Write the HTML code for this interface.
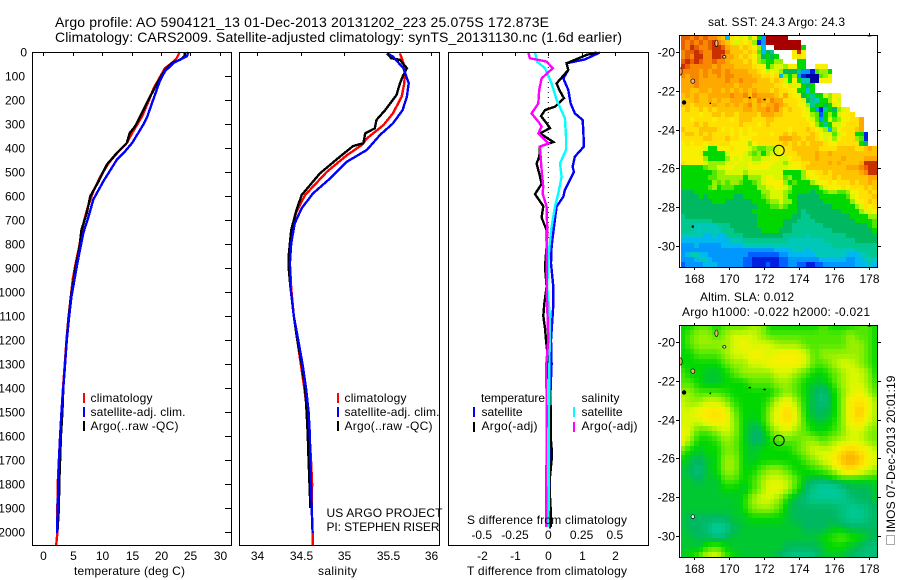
<!DOCTYPE html>
<html>
<head>
<meta charset="utf-8">
<title>Argo profile</title>
<style>
html,body{margin:0;padding:0;background:#fff;}
svg{display:block;}
text{font-family:"Liberation Sans",sans-serif;font-size:12px;fill:#000;}
</style>
</head>
<body>
<svg id="fig" xmlns="http://www.w3.org/2000/svg" width="900" height="580" viewBox="0 0 900 580">
<defs>
<clipPath id="clip-map1"><rect x="680" y="35" width="197" height="232"/></clipPath>
<clipPath id="clip-map2"><rect x="680" y="325" width="197" height="232"/></clipPath>
</defs>
<text x="55" y="27" style="font-size:14px" textLength="494" lengthAdjust="spacing">Argo profile: AO 5904121_13 01-Dec-2013 20131202_223 25.075S 172.873E</text>
<text x="55" y="42" style="font-size:14px" textLength="567" lengthAdjust="spacing">Climatology: CARS2009. Satellite-adjusted climatology: synTS_20131130.nc (1.6d earlier)</text>

<g id="g-map1" clip-path="url(#clip-map1)"></g>
<g id="g-map2" clip-path="url(#clip-map2)"></g>

<g id="g-p1"></g>
<g id="g-p2"></g>
<g id="g-p3"></g>
<g id="g-axes"></g>

<rect x="32.5" y="52.5" width="199" height="493" fill="none" stroke="#000"/>
<rect x="239.5" y="52.5" width="200" height="493" fill="none" stroke="#000"/>
<rect x="448.5" y="52.5" width="200" height="493" fill="none" stroke="#000"/>
<rect x="679.5" y="35.5" width="198" height="232" fill="none" stroke="#000"/>
<rect x="679.5" y="325.5" width="198" height="232" fill="none" stroke="#000"/>

<text x="74" y="575" textLength="111" lengthAdjust="spacing">temperature (deg C)</text>
<text x="318" y="575" textLength="39" lengthAdjust="spacing">salinity</text>
<text x="467" y="575" textLength="160" lengthAdjust="spacing">T difference from climatology</text>
<text x="467" y="524" textLength="160" lengthAdjust="spacing">S difference from climatology</text>

<g>
<rect x="83" y="393" width="2" height="10" fill="#f00"/>
<rect x="83" y="407" width="2" height="10" fill="#00f"/>
<rect x="83" y="421" width="2" height="10" fill="#000"/>
<text x="90.5" y="402" textLength="62" lengthAdjust="spacing">climatology</text>
<text x="90.5" y="416" textLength="95" lengthAdjust="spacing">satellite-adj. clim.</text>
<text x="90.5" y="430" textLength="88" lengthAdjust="spacing">Argo(..raw -QC)</text>
</g>
<g>
<rect x="337" y="393" width="2" height="10" fill="#f00"/>
<rect x="337" y="407" width="2" height="10" fill="#00f"/>
<rect x="337" y="421" width="2" height="10" fill="#000"/>
<text x="344.5" y="402" textLength="62" lengthAdjust="spacing">climatology</text>
<text x="344.5" y="416" textLength="95" lengthAdjust="spacing">satellite-adj. clim.</text>
<text x="344.5" y="430" textLength="88" lengthAdjust="spacing">Argo(..raw -QC)</text>
<text x="326.5" y="517" textLength="116" lengthAdjust="spacing">US ARGO PROJECT</text>
<text x="326.5" y="531" textLength="113" lengthAdjust="spacing">PI: STEPHEN RISER</text>
</g>
<g>
<text x="481" y="402" textLength="64" lengthAdjust="spacing">temperature</text>
<rect x="473" y="407" width="2" height="10" fill="#00f"/>
<rect x="473" y="422" width="2" height="10" fill="#000"/>
<text x="481.5" y="416" textLength="41" lengthAdjust="spacing">satellite</text>
<text x="481.5" y="430" textLength="56" lengthAdjust="spacing">Argo(-adj)</text>
<text x="581.5" y="402" textLength="38" lengthAdjust="spacing">salinity</text>
<rect x="573" y="407" width="2" height="10" fill="#0ff"/>
<rect x="573" y="422" width="2" height="10" fill="#f0f"/>
<text x="581.5" y="416" textLength="41" lengthAdjust="spacing">satellite</text>
<text x="581.5" y="430" textLength="56" lengthAdjust="spacing">Argo(-adj)</text>
</g>

<text x="708" y="26" textLength="137" lengthAdjust="spacing">sat. SST: 24.3 Argo: 24.3</text>
<text x="700" y="301" textLength="94" lengthAdjust="spacing">Altim. SLA: 0.012</text>
<text x="682" y="316" textLength="188" lengthAdjust="spacing">Argo h1000: -0.022 h2000: -0.021</text>
<text transform="translate(895,532.5) rotate(-90)" x="0" y="0" textLength="157" lengthAdjust="spacing">IMOS 07-Dec-2013 20:01:19</text>
<rect x="886.5" y="535.5" width="8" height="9" fill="none" stroke="#555" stroke-dasharray="1 1"/>
</svg>
<script>
// ---------- profile data (depth in dbar) ----------
const depthTicks = [0,100,200,300,400,500,600,700,800,900,1000,1100,1200,1300,1400,1500,1600,1700,1800,1900,2000];
const tempTicks = [0,5,10,15,20,25,30];
const salTicks = [34,34.5,35,35.5,36];
const salTickLabels = ["34","34.5","35","35.5","36"];
const tDiffTicks = [-2,-1,0,1,2];
const sDiffTicks = [-0.5,-0.25,0,0.25,0.5];
const sDiffTickLabels = ["-0.5","-0.25","0","0.25","0.5"];
const lonTicks = [168,170,172,174,176,178];
const latTicks = [-20,-22,-24,-26,-28,-30];

const tempClimDepth = [0,25,45,67,115,150,205,268,338,379,414,463,519,581,651,727,810,893,949,1018,1100,1200,1300,1400,1500,1600,1700,1800,1900,2000,2055];
const tempClimValue = [23.2,22.7,21.9,20.7,19.6,18.8,17.9,16.8,15.1,14.2,12.8,11.1,9.7,8.5,7.5,6.7,6.1,5.4,5.0,4.7,4.3,3.95,3.65,3.35,3.1,2.85,2.65,2.45,2.4,2.4,2.2];
const tempArgoDepth = [0,18,32,45,74,108,157,212,268,310,338,379,421,469,539,601,671,740,823,893,976,1018,1100,1200,1300,1400,1500,1600,1700,1800,1900,2000];
const tempArgoValue = [24.1,24.0,23.3,21.9,20.7,19.9,18.8,17.6,16.5,15.6,14.7,14.2,12.5,10.8,9.4,8.0,7.4,6.5,6.1,5.5,5.0,4.7,4.35,3.98,3.7,3.4,3.25,3.0,2.85,2.7,2.65,2.4];
const tempSatDepth = [0,18,45,80,122,178,226,268,303,379,414,449,539,615,685,754,823,893,962,1018,1100,1200,1300,1400,1500,1600,1700,1800,1900,2005];
const tempSatValue = [24.7,24.4,22.2,20.7,19.8,19.0,18.3,17.7,17.0,15.1,13.9,12.5,10.2,8.5,7.7,6.8,6.25,5.7,5.2,4.8,4.4,4.0,3.7,3.4,3.1,2.85,2.67,2.55,2.45,2.33];

const salClimDepth = [6,26,68,130,186,255,304,360,388,430,499,596,665,714,797,881,985,1100,1200,1300,1400,1500,1600,1700,1800,1900,2000,2055];
const salClimValue = [35.64,35.66,35.7,35.69,35.66,35.56,35.45,35.26,35.2,35.03,34.8,34.55,34.45,34.41,34.38,34.375,34.39,34.42,34.46,34.5,34.54,34.575,34.6,34.617,34.63,34.625,34.636,34.636];
const salArgoDepth = [6,26,33,68,103,130,179,242,283,318,339,380,392,436,506,596,658,742,853,895,978,1100,1200,1300,1400,1500,1600,1700,1800,1900];
const salArgoValue = [35.49,35.54,35.64,35.72,35.67,35.64,35.6,35.47,35.37,35.35,35.24,35.22,35.1,34.95,34.72,34.51,34.45,34.39,34.36,34.36,34.38,34.42,34.46,34.51,34.55,34.567,34.58,34.59,34.6,34.61];
const salSatDepth = [5,19,68,130,186,242,297,346,408,457,526,589,651,714,797,881,978,1100,1200,1300,1400,1500,1600,1700,1800,1900,2005];
const salSatValue = [35.49,35.56,35.68,35.74,35.72,35.67,35.56,35.41,35.26,35.03,34.84,34.64,34.51,34.43,34.39,34.375,34.38,34.42,34.47,34.52,34.56,34.59,34.605,34.61,34.617,34.625,34.636];

const tDiffSatDepth = [2,31,47,75,110,158,214,256,283,325,394,436,478,499,575,603,644,728,811,881,978,1050,1100,1200,1300,1400,1500,1900,1985];
const tDiffSatValue = [1.55,1.1,0.55,0.6,0.45,0.6,0.67,0.8,1.03,1.05,1.07,0.8,0.73,0.77,0.5,0.45,0.25,0.17,0.1,0.08,0.15,0.15,0.13,0.08,0.1,0.07,0.05,0.05,0.05];
const tDiffArgoDepth = [2,12,47,75,131,158,193,228,242,267,297,317,339,375,394,436,464,519,550,592,642,690,742,811,894,978,1050,1100,1150,1200,1250,1500,1600,1650,1700,1800,1900,1980];
const tDiffArgoValue = [1.45,1.15,0.55,0.6,0.25,0.33,0.47,0.2,-0.1,-0.22,-0.05,0.05,-0.25,0.15,-0.25,-0.27,-0.35,-0.25,-0.2,-0.4,-0.15,-0.2,-0.05,-0.05,-0.1,-0.05,-0.12,-0.15,-0.1,-0.07,-0.03,0.08,0.07,0.1,0.1,0.03,0.07,0.07];
const sDiffSatDepth = [2,40,68,131,200,276,353,408,464,519,589,644,728,811,881,978,1100,1500,1800,1980];
const sDiffSatValue = [-0.1,-0.083,-0.025,0.025,0.063,0.125,0.133,0.133,0.088,0.1,0.075,0.05,0.025,0.008,0,-0.008,0.012,0.005,0.005,0];
const sDiffArgoDepth = [2,26,40,68,110,158,214,256,290,311,339,381,394,492,561,589,644,742,853,978,1200,1300,1500,1980];
const sDiffArgoValue = [-0.15,-0.138,-0.013,0.033,-0.05,-0.068,-0.075,-0.125,-0.075,-0.05,-0.075,0,-0.063,-0.05,-0.038,-0.043,-0.013,-0.008,-0.013,-0.013,0,-0.015,-0.013,-0.015];

// ---------- map data: colour-scale levels per cell, _ = no data ----------
const _ = null;
const sstLevels = [
[17,17,16,17,16,17,16,16,15,14,4,13,12,11,12,10,12,8,3,19,19,19,19,19],
[17,16,17,16,17,16,17,18,16,15,14,13,11,13,12,13,10,1,3,19,19,19,19,19,19,19,19],
[17,16,18,17,16,16,17,18,18,17,15,14,14,13,14,13,12,10,4,_,_,19,19,19,19,19,19,8],
[16,17,17,18,17,16,16,18,18,18,16,14,14,14,13,14,13,9,4,7,6,_,_,_,_,12,18,12],
[16,17,16,18,18,16,16,18,18,17,15,15,14,13,14,13,12,10,7,8,7,8,_,_,_,12,13,12],
[17,18,17,18,17,16,16,17,16,16,15,14,14,14,13,14,12,10,9,8,8,10,10,_,_,_,8,8],
[18,17,16,16,16,16,16,15,16,15,15,15,14,14,14,14,13,12,12,8,10,11,11,10,12,12,8,8,_,_,12,12,12],
[16,16,16,16,15,16,15,16,16,15,16,15,15,15,15,14,14,13,12,11,12,11,10,7,7,7,6,3,3,1,9,10,10,8],
[16,15,16,16,15,16,15,15,16,15,16,16,15,15,15,15,14,14,13,13,12,13,4,10,8,10,3,1,0,0,0,9,10,11],
[15,15,15,16,15,15,15,15,15,15,16,15,15,16,15,15,15,14,14,14,13,14,13,11,8,12,8,5,5,0,0,12,12,12],
[15,15,15,16,15,15,15,15,15,15,15,15,14,15,15,15,14,14,14,14,14,13,13,12,13,11,12,8,7,8],
[15,15,14,14,15,15,14,15,15,14,15,14,15,14,15,14,15,14,14,14,13,14,13,13,12,12,8,8,4,8],
[14,15,14,15,14,14,15,15,15,15,15,16,15,15,16,14,16,15,15,15,15,14,13,15,13,12,12,7,8,6,8,8,11,10,12,12],
[14,14,14,15,14,14,15,14,15,14,14,15,15,15,14,15,14,16,15,14,16,15,15,13,13,13,12,11,7,6,5,8,8,10,12,11],
[14,14,13,14,14,14,14,15,14,14,15,14,15,14,15,16,14,15,14,15,15,16,15,14,13,13,12,12,10,6,8,8,7,8,11,12],
[13,14,13,13,14,13,14,13,14,14,14,14,14,14,15,15,14,15,15,16,15,16,14,13,14,13,13,12,11,8,3,1,6,8,7,10,11,12],
[13,13,13,13,12,13,13,14,14,13,14,14,13,14,14,14,14,13,15,15,15,14,14,13,13,13,13,12,12,10,9,2,8,10,8,11,12,12,13],
[13,13,12,13,13,13,13,12,13,13,13,12,13,14,14,14,13,13,13,14,14,13,13,13,13,13,13,13,12,11,9,3,8,11,9,10,12,12,13,13,15],
[13,13,13,14,13,14,13,13,13,13,13,13,13,14,13,13,13,12,13,14,13,13,13,13,13,13,13,13,13,12,10,8,6,8,11,11,12,13,13,13,15],
[14,13,13,13,14,14,14,14,13,12,13,12,13,12,13,12,13,13,13,13,13,13,13,13,12,13,13,13,14,13,12,11,10,4,10,12,13,13,13,14,15],
[13,14,14,13,14,13,14,13,13,13,13,12,13,12,13,12,12,13,13,13,12,13,13,14,13,14,13,13,13,14,13,12,11,11,9,11,12,13,13,8,8,1],
[13,13,13,13,13,14,14,13,13,13,14,13,13,12,12,12,13,13,13,13,13,13,15,15,15,14,14,13,14,14,13,12,11,12,10,12,13,13,13,10,9,1],
[12,13,12,13,13,12,13,13,13,13,13,12,12,12,12,10,12,13,13,13,13,13,13,14,13,14,13,14,13,14,14,14,13,12,12,13,13,13,13,13,8,7],
[12,12,12,12,12,11,8,8,12,12,12,13,12,12,12,11,10,9,9,10,10,11,12,13,13,14,14,14,14,14,14,13,13,13,13,14,14,14,14,13,13,14,15,14],
[12,12,12,12,11,8,8,8,8,8,11,12,12,12,11,10,9,10,8,10,11,11,12,13,13,13,14,14,14,14,15,14,14,15,14,14,14,14,14,14,14,14,14,14],
[12,12,12,12,12,10,8,8,8,8,10,12,11,12,11,11,10,10,11,11,12,12,11,11,12,13,13,14,14,14,15,14,14,14,14,14,15,14,14,14,14,15,15,15],
[13,12,12,12,12,11,10,10,10,10,11,11,12,11,11,12,11,11,12,12,12,11,11,10,11,12,12,13,13,14,14,14,14,15,14,15,14,14,14,14,15,18,18,18],
[8,8,8,8,8,9,10,10,11,11,12,12,11,11,11,12,12,12,12,12,11,11,11,11,12,12,12,13,14,14,14,14,14,14,14,14,14,15,15,15,16,17,18,18],
[8,8,8,8,8,8,8,9,10,10,11,11,11,11,10,11,11,11,11,11,11,11,11,8,8,8,8,10,12,12,13,13,14,13,14,14,14,14,14,14,15,16,18,18],
[8,8,8,8,8,8,9,9,10,10,10,10,10,10,8,10,10,10,11,12,12,11,11,9,10,8,8,10,11,12,12,13,13,13,14,13,14,14,14,14,14,14,15,15],
[8,8,8,8,8,8,8,10,9,10,9,10,10,9,8,8,9,10,11,12,12,12,12,10,8,9,8,8,8,10,11,12,12,13,12,13,13,13,14,13,14,14,15,14],
[8,8,8,8,8,8,9,10,8,9,9,9,8,8,8,8,8,10,10,11,11,12,12,11,10,8,8,8,8,8,8,10,11,12,12,12,13,12,13,13,13,14,13,14],
[7,7,7,8,8,8,8,8,8,8,8,8,8,8,8,8,8,8,10,10,11,11,11,10,9,8,8,8,8,7,8,8,9,10,10,9,9,10,12,12,13,13,14,13],
[7,7,7,7,8,7,8,8,8,8,8,8,7,7,8,8,8,8,9,10,11,11,11,10,8,8,7,7,7,7,7,8,8,8,8,8,8,9,11,12,13,13,13,14],
[7,7,7,7,7,7,7,8,8,8,7,7,7,7,7,7,8,8,8,9,10,10,11,10,10,8,7,7,7,7,7,7,8,8,8,8,8,8,10,12,12,13,14,13],
[7,7,7,7,7,7,7,7,7,7,7,7,7,7,7,7,7,8,8,8,9,9,10,9,8,8,7,7,7,7,7,7,7,7,8,8,8,8,8,10,11,13,12,13],
[7,7,7,7,7,7,7,7,7,7,7,7,7,7,7,7,8,8,8,8,8,8,8,8,8,8,7,6,7,7,7,7,7,7,7,7,8,8,8,8,10,11,11,12],
[6,7,7,7,7,7,7,7,7,7,7,7,7,7,7,7,7,8,8,8,8,8,8,8,8,7,7,6,6,7,7,7,7,7,7,7,7,7,8,8,8,8,10,10],
[6,6,6,6,6,6,6,7,7,7,7,7,7,7,7,7,7,8,8,8,8,8,8,7,7,7,6,6,6,6,7,7,7,7,7,7,7,7,7,8,8,8,8,9],
[6,6,6,5,5,5,5,5,6,6,6,7,7,7,7,7,7,8,8,8,8,8,8,7,7,6,6,6,6,6,6,6,7,7,7,7,7,7,7,7,7,7,8,9],
[6,6,6,5,5,5,5,5,5,6,6,6,7,7,7,7,7,7,8,8,8,8,7,7,7,6,6,6,6,6,6,6,6,6,7,7,7,7,7,7,7,7,7,8],
[5,5,5,5,5,4,4,5,4,4,6,6,6,6,7,7,7,7,7,7,7,7,7,6,6,6,6,6,5,6,6,6,6,6,6,6,6,7,7,7,7,7,7,7],
[4,4,4,4,4,4,4,4,4,4,4,5,5,5,6,6,6,6,6,6,6,6,6,6,5,5,5,5,5,5,5,5,6,6,6,6,6,6,6,7,7,7,7,7],
[3,3,3,4,3,3,3,3,3,4,4,4,4,4,5,5,5,5,5,5,5,5,5,5,5,5,5,5,5,5,5,5,5,5,6,6,6,6,6,6,6,6,6,6],
[3,3,3,3,3,3,3,3,3,3,3,3,3,3,3,3,3,3,3,3,3,4,4,4,4,5,5,5,4,5,5,5,5,5,5,5,5,5,5,6,6,6,6,6],
[3,4,5,5,4,4,3,3,3,3,3,3,3,3,3,2,2,2,2,2,2,2,3,3,4,4,4,4,4,4,5,5,5,5,5,5,5,4,4,4,5,5,6,6],
[3,3,3,4,5,5,4,3,3,3,3,3,3,3,2,2,1,1,1,1,1,1,2,2,3,3,3,3,3,3,3,4,4,4,4,4,4,3,3,4,4,5,5,5],
[2,3,3,3,3,4,4,4,3,3,3,3,3,3,2,2,1,1,1,2,1,1,2,2,3,3,2,2,1,1,2,2,3,3,3,3,3,3,3,4,4,4,5,4]
];
const slaLevels = [
[8,8,9,9,8,9,9,9,10,10,8,8,8,8,8,8,9,8,8,8,9,9,8],
[8,9,10,10,9,10,11,11,11,10,9,9,9,9,9,9,9,9,9,10,9,9,8],
[8,9,10,10,10,10,11,12,11,11,11,10,10,10,9,9,9,9,9,10,10,9,8],
[8,8,9,9,9,10,11,11,12,12,11,12,12,12,11,9,10,10,10,10,10,9,8],
[8,8,8,8,8,9,10,10,11,11,12,12,12,12,11,9,9,10,11,11,10,9,8],
[9,8,8,7.5,7.5,8,9,10,10,10,10,11,11,10,9,8,8,9,10,11,11,10,8],
[9,9,8,7.5,7.5,8,8,8,9,9,9,10,10,9,8,7.5,7.5,8.5,10,11,11,10,8.5],
[10,10,9,9,9,8.5,8,8,8,8,8,9,10,9,8,7,6.5,7.5,9.5,11,12,10.5,9],
[11,10,10,11,11,10,8.5,8,8,8,9,11,12,10,8,7,6.5,7.5,9.5,12,13,12,10],
[11,11,12,12.5,13,12,9.5,8,8,8,10,12,13.5,11,8,7,7,7.5,9.5,12,14,12,10],
[11,11,11,12,12.5,12,10,8,7.5,8,10,12,13,11,8.5,7.5,7.5,8,9.5,12,13,11,10],
[12,11,9,9,10,11,10,8,7,7,9,10.5,11,10,9,8,8,8.5,9.5,11,11,10,9.5],
[12,10,8,8,8.5,10,9.5,8,7,7,8,9,9,9,10,10,9,10,10.5,11,11,10,9.5],
[9.5,8,7.5,8,8,9.5,9.5,8,7.5,8,8,8,8,9,10,11,11,11,13,14,13,12,10.5],
[8,7.5,7,7.5,8,10,10,8,7.5,8,8,8,8,8,9,10,11,12,14,15,14,12,11],
[7.5,7,6.5,7.5,8,10,10,8,8,9,10,10,9,8,8,8.5,9,10,12,13,12,11,10],
[7.5,7.5,7,7.5,7.5,9,9,8,8.5,10,11,11,10.5,9,7.5,7,7,7.5,8,8,8,8,8],
[7.5,7.5,7.5,7.5,7.5,8,8,7.5,8.5,10,11.5,11.5,10.5,8.5,7,6,5.5,5.5,6,7,7,7,7.5],
[7.5,7.5,7.5,7.5,7.5,7.5,7.5,8,10,11,11,10,8,7,6.5,6,6,6,6,6.5,7,7,7.5],
[7.5,7.5,7.5,7.5,7.5,7.5,7.5,8,9.5,10,10,9,7.5,7,7,7,7,7,6.5,6,6,6.5,7],
[7.5,7,7,7,7,7,7.5,7.5,8,8,8,8,7.5,7,7,7,7,7,6.5,6,6,6.5,7],
[7.5,7,7,6.5,5.5,6,7,7.5,7.5,7.5,7.5,7.5,7.5,7.5,7,7,7,7.5,7.5,7,7,7,7],
[7.5,7.5,7,7,6.5,7,7.5,7.5,7.5,7.5,7.5,7.5,7.5,7.5,7.5,7.5,8,8.5,9,8.5,8,7.5,7],
[7.5,7.5,7.5,8.5,9,8,7.5,7.5,7.5,7.5,7.5,7.5,7,7,7,7,7.5,8,8,7.5,7,6.5,6.5],
[7.5,8,9,11,11.5,9,8,7.5,7.5,7.5,7.5,7,6.5,6,6,6.5,7.5,7.5,7.5,7,6.5,6.5,6.5]
];
const levelColours = ["#0000a0","#0020e0","#0060ff","#0098ff","#00b8f0","#00c8b8","#00c890","#00b860","#00d800","#50e800","#98f000","#d8f800","#f8f000","#ffe000","#ffc400","#ffa800","#f88800","#e86000","#c83000","#a80000"];
// islands: lon, lat, rx(px), ry(px), fill
const islandsBoth = [[169.3,-19.55,1.6,3.2,"#f0b080"],[169.75,-20.25,1.6,1.2,"#fff"],[167.25,-21.0,1.6,3.6,"#f0b080"],[167.95,-21.5,2,2.2,"#f0b080"],[167.45,-22.6,1.8,1.8,"#000"],[171.2,-22.35,1,.5,"#000"],[172.05,-22.45,1,.5,"#000"],[168.95,-22.65,.5,.5,"#000"],[178.05,-19.15,2.2,.6,"#000"]];
const islandsSstOnly = [[167.95,-29.0,.8,1,"#000"]];
const islandsSlaOnly = [[167.95,-29.0,1.8,1.8,"#fff"]];

// ---------- axis functions ----------
const depthY = d => 52 + d * 0.24;
const tempX = t => 43.3 + t * 5.88;
const salX = s => 257.3 + (s - 34) * 87;
const tDiffX = t => 548.3 + t * 33.3;
const sDiffX = s => 548.3 + s * 133.2;
const lonX = lon => 693.7 + (lon - 168) * 17.5;
const latY1 = lat => 52 - (lat + 20) * 19.4;
const latY2 = lat => 342 - (lat + 20) * 19.4;

const NS = "http://www.w3.org/2000/svg";
function mk(tag, parent, attrs, txt) {
  const el = document.createElementNS(NS, tag);
  for (const k in attrs) el.setAttribute(k, attrs[k]);
  if (txt !== undefined) el.textContent = txt;
  parent.appendChild(el);
  return el;
}
const gAxes = document.getElementById("g-axes");

// ---------- profile lines ----------
function profile(parent, depths, values, xFn, colour, name) {
  const pts = depths.map((d, i) => xFn(values[i]).toFixed(1) + "," + depthY(d).toFixed(1)).join(" ");
  const el = mk("polyline", parent, {points: pts, fill: "none", stroke: colour, "stroke-width": 2.4, "shape-rendering": "crispEdges"});
  
  
}
const p1 = document.getElementById("g-p1"), p2 = document.getElementById("g-p2"), p3 = document.getElementById("g-p3");
profile(p1, tempClimDepth, tempClimValue, tempX, "#f00", "temperature-climatology-line");
profile(p1, tempArgoDepth, tempArgoValue, tempX, "#000", "temperature-argo-line");
profile(p1, tempSatDepth, tempSatValue, tempX, "#00f", "temperature-satellite-line");
profile(p2, salClimDepth, salClimValue, salX, "#f00", "salinity-climatology-line");
profile(p2, salArgoDepth, salArgoValue, salX, "#000", "salinity-argo-line");
profile(p2, salSatDepth, salSatValue, salX, "#00f", "salinity-satellite-line");
const zeroLine = mk("line", p3, {x1: tDiffX(0), x2: tDiffX(0), y1: 52, y2: 240, stroke: "#000", "stroke-dasharray": "1 4"});


profile(p3, tDiffSatDepth, tDiffSatValue, tDiffX, "#00f", "t-difference-satellite-line");
profile(p3, tDiffArgoDepth, tDiffArgoValue, tDiffX, "#000", "t-difference-argo-line");
profile(p3, sDiffSatDepth, sDiffSatValue, sDiffX, "#0ff", "s-difference-satellite-line");
profile(p3, sDiffArgoDepth, sDiffArgoValue, sDiffX, "#f0f", "s-difference-argo-line");

// ---------- ticks and labels ----------
function label(x, y, anchor, txt, size, name) {
  const t = mk("text", gAxes, {x: x, y: y, "text-anchor": anchor, style: "font-size:" + size + "px"}, txt);
  
  
}
function tick(x1, y1, x2, y2, name) {
  const l = mk("line", gAxes, {x1: x1, y1: y1, x2: x2, y2: y2, stroke: "#000", "shape-rendering": "crispEdges"});
  
  
}
const tickFont = 12;
depthTicks.forEach(d => {
  const y = Math.round(depthY(d)) + 0.5;
  tick(225, y, 231, y, "depth-tick");
  label(d === 0 ? 27 : 25, y + 4, "end", String(d), tickFont, "depth-tick-label");
});
tempTicks.forEach(t => {
  const x = Math.round(tempX(t)) + 0.5;
  tick(x, 52, x, 56, "temperature-tick");
  label(x, 560, "middle", String(t), tickFont, "temperature-tick-label");
});
salTicks.forEach((s, i) => {
  const x = Math.round(salX(s)) + 0.5;
  tick(x, 52, x, 56, "salinity-tick");
  label(x, 560, "middle", salTickLabels[i], tickFont, "salinity-tick-label");
});
tDiffTicks.forEach(t => {
  const x = Math.round(tDiffX(t)) + 0.5;
  tick(x, 52, x, 56, "t-difference-tick");
  label(x, 560, "middle", String(t), tickFont, "t-difference-tick-label");
});
sDiffTicks.forEach((s, i) => {
  label(sDiffX(s), 539, "middle", sDiffTickLabels[i], tickFont, "s-difference-tick-label");
});
[[35, 267, latY1, 283], [325, 557, latY2, 573]].forEach(m => {
  lonTicks.forEach(lon => {
    const x = Math.round(lonX(lon)) + 0.5;
    tick(x, m[1], x, m[1] + 3, "longitude-tick");
    tick(x, m[0], x, m[0] - 2, "longitude-tick");
    label(x, m[3], "middle", String(lon), tickFont, "longitude-tick-label");
  });
  latTicks.forEach(lat => {
    const y = Math.round(m[2](lat)) + 0.5;
    tick(676, y, 680, y, "latitude-tick");
    tick(877, y, 881, y, "latitude-tick");
    label(675, y + 4, "end", String(lat), tickFont, "latitude-tick-label");
  });
});

// ---------- maps ----------
function hexRgb(h) { return [parseInt(h.slice(1,3),16), parseInt(h.slice(3,5),16), parseInt(h.slice(5,7),16)]; }
function levelColour(v) {
  const v2 = Math.max(0, Math.min(levelColours.length - 1, v));
  const a = Math.floor(v2), b = Math.min(levelColours.length - 1, a + 1), f = v2 - a;
  const ca = hexRgb(levelColours[a]), cb = hexRgb(levelColours[b]);
  return "rgb(" + ca.map((c, i) => Math.round(c + (cb[i] - c) * f)).join(",") + ")";
}
const nCols = 44, nRows = 48;
const lonStart = 167.27, lonStep = 0.2545, latStart = -19.124, latStep = -0.2491;
function cell(parent, col, row, latFn, colour, name) {
  const x0 = Math.round(lonX(lonStart + col * lonStep)), x1 = Math.round(lonX(lonStart + (col + 1) * lonStep));
  const y0 = Math.round(latFn(latStart + row * latStep)), y1 = Math.round(latFn(latStart + (row + 1) * latStep));
  const r = mk("rect", parent, {x: x0, y: y0, width: x1 - x0, height: y1 - y0, fill: colour});
  
  
}
const g1 = document.getElementById("g-map1"), g2 = document.getElementById("g-map2");
for (let r = 0; r < nRows; r++) {
  for (let c = 0; c < nCols; c++) {
    const v = sstLevels[r][c];
    if (v === _ || v === undefined) continue;
    cell(g1, c, r, latY1, levelColour(v), "sst-cell");
  }
}
// SLA field is stored on a coarse node grid and sampled per display cell
function slaSample(c, r) {
  const fx = (c + 0.5) / nCols * (slaLevels[0].length - 1), fy = (r + 0.5) / nRows * (slaLevels.length - 1);
  const i = Math.floor(fx), j = Math.floor(fy), dx = fx - i, dy = fy - j;
  return (slaLevels[j][i] * (1 - dx) + slaLevels[j][i + 1] * dx) * (1 - dy) + (slaLevels[j + 1][i] * (1 - dx) + slaLevels[j + 1][i + 1] * dx) * dy;
}
for (let r = 0; r < nRows; r++) {
  for (let c = 0; c < nCols; c++) {
    cell(g2, c, r, latY2, levelColour(slaSample(c, r)), "sla-cell");
  }
}
// islands and float position on both maps
[[g1, latY1, islandsSstOnly], [g2, latY2, islandsSlaOnly]].forEach(m => {
  islandsBoth.concat(m[2]).forEach(s => {
    const e = mk("ellipse", m[0], {cx: lonX(s[0]), cy: m[1](s[1]), rx: s[2], ry: s[3], fill: s[4], stroke: "#000", "stroke-width": 0.7});
    
    
  });
  const ring = mk("circle", m[0], {cx: lonX(172.873), cy: m[1](-25.075), r: 5.2, fill: "none", stroke: "#000", "stroke-width": 1});
  
  
});
</script>
</body>
</html>
